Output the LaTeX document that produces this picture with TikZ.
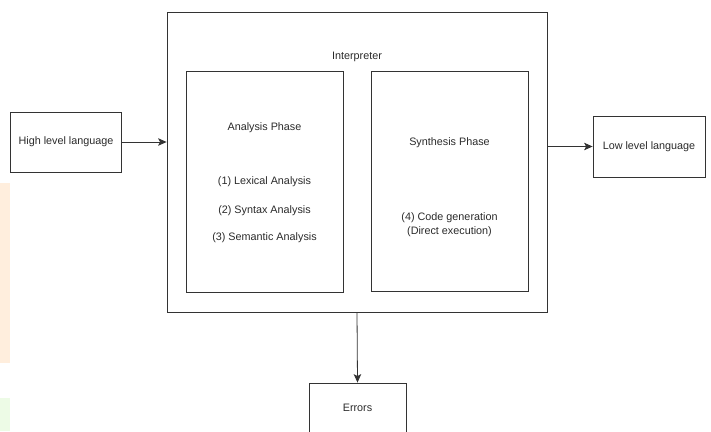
\documentclass[tikz,border=0pt]{standalone}
\usepackage{fontspec}
\setmainfont{Liberation Sans}
\usetikzlibrary{positioning}
\usetikzlibrary{arrows.meta}
\definecolor{linegray}{HTML}{333333}
\definecolor{textgray}{HTML}{2a2a2a}
\definecolor{stripeorange}{HTML}{FFEEDD}
\definecolor{stripegreen}{HTML}{EDFBE6}
\tikzset {
  % plain draw.io style box
  box/.style = {draw=linegray, thick, rectangle, inner sep=0pt, text=textgray},
  % text only
  lbl/.style = {text=textgray, inner sep=0pt, align=center},
  flow/.style = {-{Stealth[length=8.5pt, width=7.5pt, inset=2pt]}, linegray, thick},
}

\begin{document}
\begin{tikzpicture}[x=1pt, y=-1pt, font=\fontsize{10.8}{13.5}\selectfont]
  \useasboundingbox (0,0) rectangle (711,431);
  \clip (0,0) rectangle (711,431);
  % page strips on the left
  \fill[stripeorange] (0,183) rectangle (10,363);
  \fill[stripegreen] (0,398) rectangle (10,431);

  \node[box, minimum width=380pt, minimum height=300pt] (interp) at (357,162) {};
  \node[lbl] (interplbl) at (357,57) {Interpreter};

  \node[box, minimum width=157pt, minimum height=221pt] (analysis) at (264.5,181.5) {};
  \node[lbl] (analysislbl) at (264.5,128) {Analysis Phase};
  \node[lbl] (lex) at (264.5,182) {(1) Lexical Analysis};
  \node[lbl] (syn) at (264.5,211) {(2) Syntax Analysis};
  \node[lbl] (sem) at (264.5,238) {(3) Semantic Analysis};

  \node[box, minimum width=157pt, minimum height=220pt] (synthesis) at (449.5,181) {};
  \node[lbl] (synthesislbl) at (449.5,143) {Synthesis Phase};
  \node[lbl] (codegen) at (449.5,224.5) {(4) Code generation\\(Direct execution)};

  \node[box, minimum width=111pt, minimum height=60pt] (high) at (66,142) {High level language};
  \node[box, minimum width=112pt, minimum height=61pt] (low) at (649,146.5) {Low level language};
  \node[box, minimum width=97pt, minimum height=54pt] (errors) at (357.5,410) {};
  \node[lbl] (errorslbl) at (357.5,408) {Errors};

  \draw[flow] (high) -- (interp.west |- high);
  \draw[flow] (interp.east |- low) -- (low);
  \draw[flow] (interp.south) -- (errors.north);
\end{tikzpicture}
\end{document}
